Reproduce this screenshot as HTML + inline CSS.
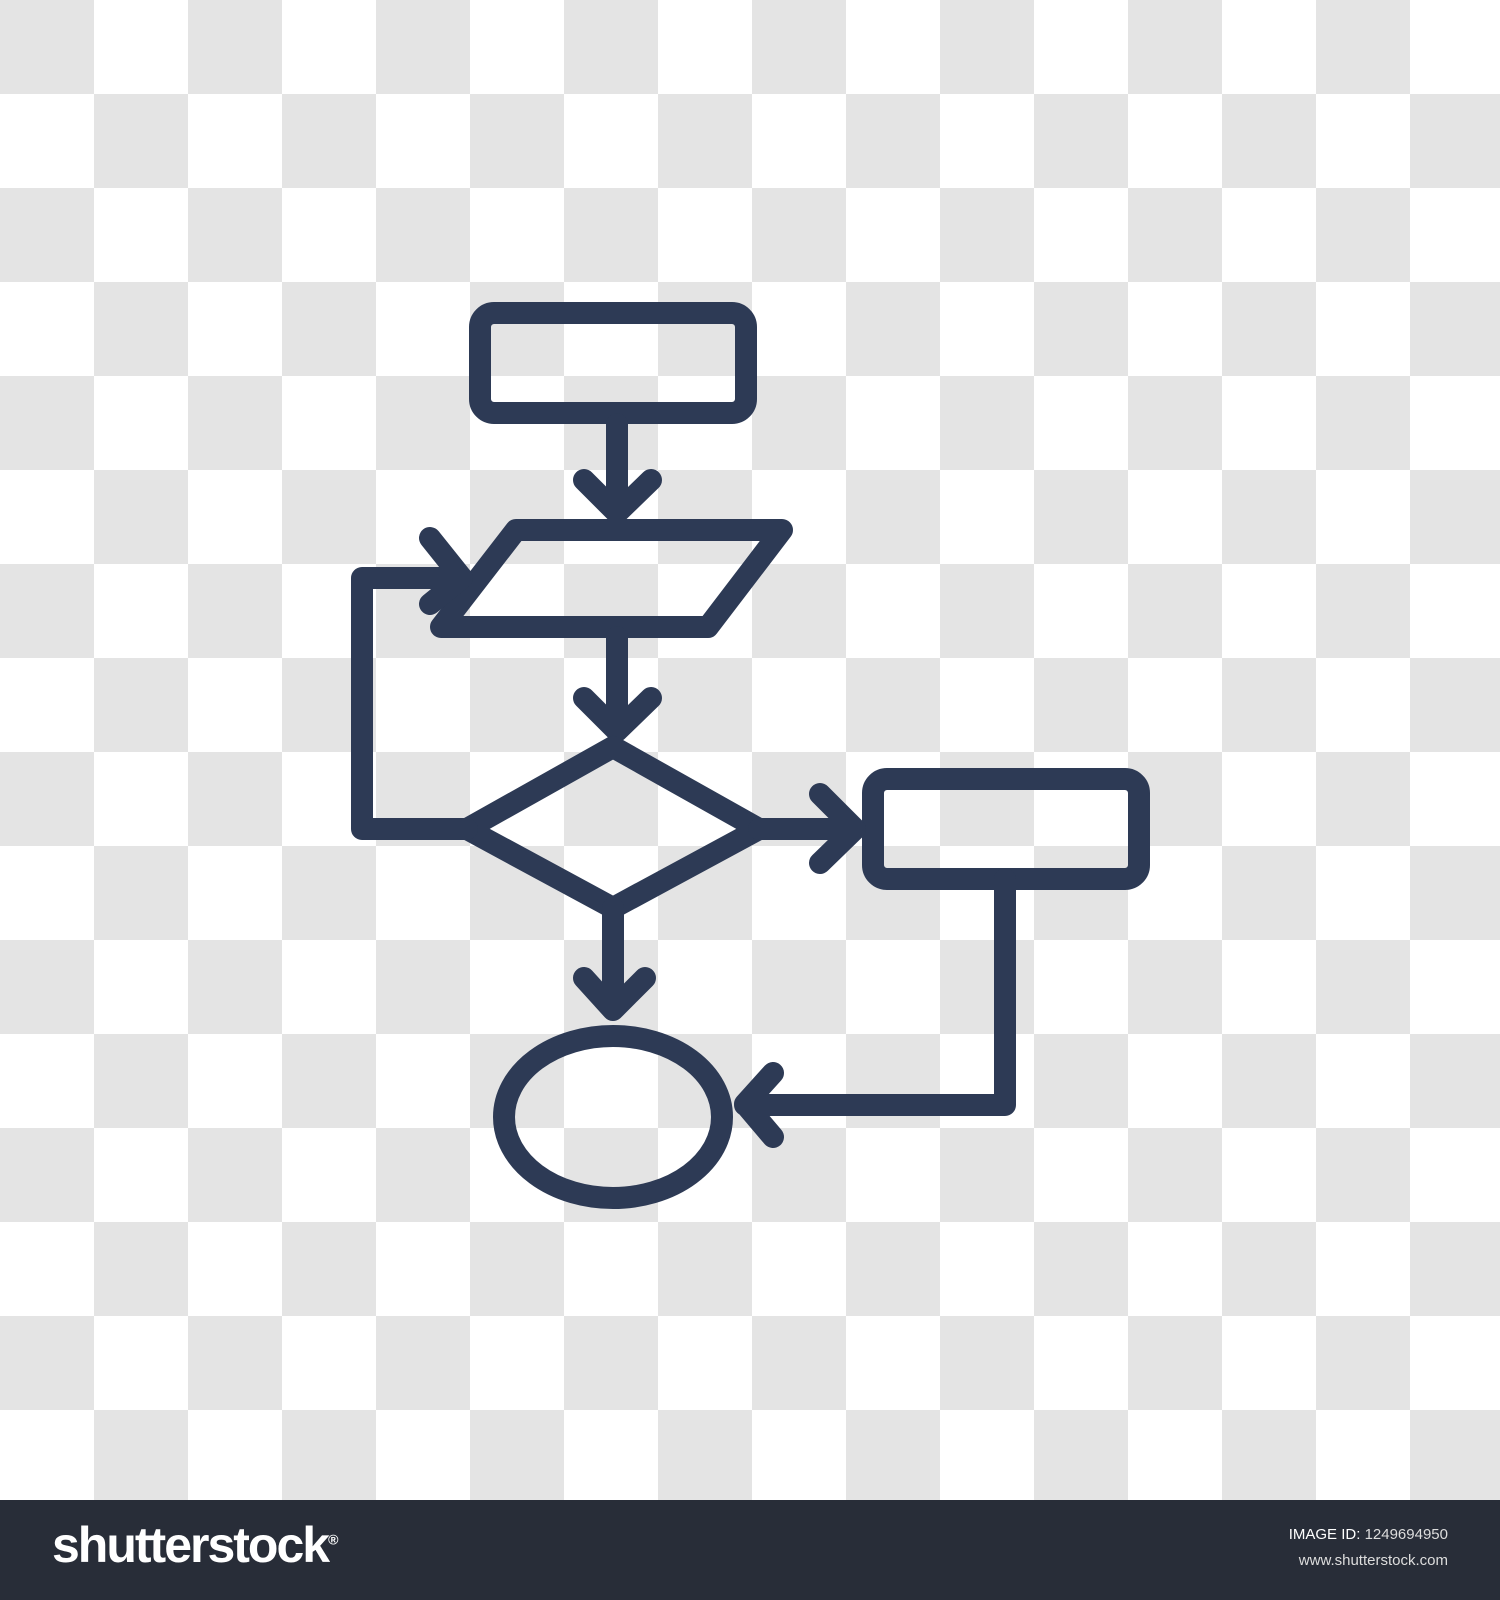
<!DOCTYPE html>
<html><head><style>
html,body{margin:0;padding:0;}
body{width:1500px;height:1600px;position:relative;overflow:hidden;
background-color:#fff;
background-image:
linear-gradient(45deg,#e4e4e4 25%,transparent 25%,transparent 75%,#e4e4e4 75%),
linear-gradient(45deg,#e4e4e4 25%,transparent 25%,transparent 75%,#e4e4e4 75%);
background-size:188px 188px;background-position:94px 0,0 94px;}
#bar{position:absolute;left:0;top:1500px;width:1500px;height:100px;background:#282d38;}
#logo{position:absolute;left:52px;top:16px;color:#fff;font:bold 50px "Liberation Sans",sans-serif;letter-spacing:-2px;}
#id{position:absolute;right:52px;top:22px;color:#fff;font:15px "Liberation Sans",sans-serif;text-align:right;line-height:26px;}
#id span{color:#ddd}
svg{position:absolute;left:0;top:0}
</style></head><body>
<svg width="1500" height="1500" viewBox="0 0 1500 1500">
<g fill="none" stroke="#2d3a55" stroke-width="22" stroke-linecap="round" stroke-linejoin="round">
<rect x="480" y="313" width="266" height="100" rx="14"/>
<path d="M617 424 V513 M584 480 L617 513 L651 480"/>
<path d="M516 530 H782 L708 627 H441 Z"/>
<path d="M617 637 V731 M584 698 L617 731 L651 698"/>
<path d="M613 747 L759 829 L613 908 L467 829 Z"/>
<path d="M613 908 V1010 M584 978 L613 1010 L645 978"/>
<ellipse cx="613" cy="1117" rx="109" ry="81"/>
<rect x="873" y="779" width="266" height="100" rx="14"/>
<path d="M759 829 H855 M820 794 L855 829 L820 863"/>
<path d="M1005 879 V1105 H745 M773 1073 L745 1104 L773 1137"/>
<path d="M467 829 H362 V578 H458 M430 538 L462 578 L430 604"/>
</g>
</svg>
<div id="bar"><div id="logo">shutterstock<sup style="font-size:14px">®</sup></div>
<div id="id">IMAGE ID: <span>1249694950</span><br><span>www.shutterstock.com</span></div></div>
</body></html>
